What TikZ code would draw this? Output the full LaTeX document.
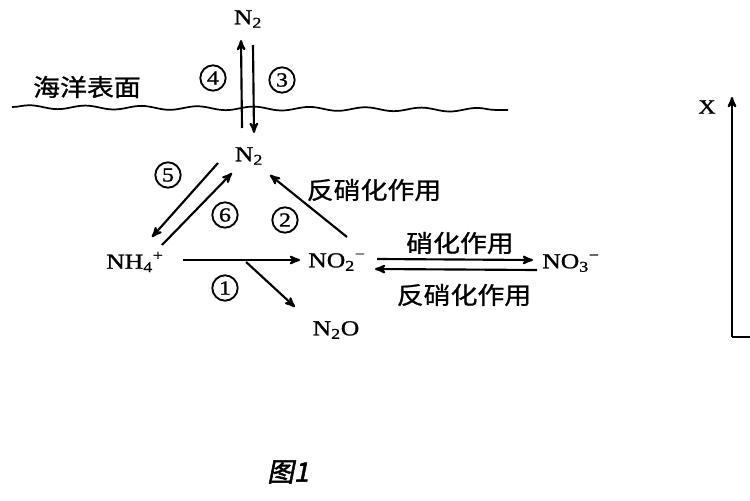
\documentclass[tikz,border=0pt]{standalone}
\usepackage{fontspec}
\setmainfont{Liberation Serif}[FakeStretch=1.2,FakeBold=1.2]
\newfontfamily\cjk{Noto Sans CJK SC}[FakeStretch=1.12,FakeBold=1]
\newfontfamily\figfont{Noto Sans CJK SC}[FakeBold=2,FakeSlant=0.2]
\usepackage{tikz}
\usetikzlibrary{arrows,calc,decorations.pathmorphing}

\begin{document}
\begin{tikzpicture}[>=stealth',x=0.75pt,y=-0.75pt,line width=1.6pt]
  \tikzset{chem/.style={inner sep=1pt, font=\fontsize{16}{16}\selectfont},
           cn/.style={inner sep=1pt, font=\cjk\fontsize{18}{18}\selectfont},
           num/.style={circle, draw, line width=1.4pt, inner sep=0pt, minimum size=19pt, font=\fontsize{15}{15}\selectfont}}
  \useasboundingbox (0,0) rectangle (750,500);
  % sea surface
  \coordinate (seaL) at (12,107);
  \coordinate (seaR) at (508,110);
  \draw[line width=1.3pt, decorate, decoration={snake, amplitude=1.4pt, segment length=42pt}] (seaL) -- (seaR);
  \node[cn] (sea) at (87,87) {海洋表面};
  % species
  \node[chem] (N2a) at (248,19) {N\textsubscript{2}};
  \node[chem] (N2b) at (249,156) {N\textsubscript{2}};
  \node[chem] (NH4) at (135,262) {NH\textsubscript{4}\textsuperscript{+}};
  \node[chem] (NO2) at (337,262) {NO\textsubscript{2}\textsuperscript{−}};
  \node[chem] (NO3) at (571,263) {NO\textsubscript{3}\textsuperscript{−}};
  \node[chem] (N2O) at (336,330) {N\textsubscript{2}O};
  % process numbers
  \node[num] (c1) at (225,288) {1};
  \node[num] (c2) at (285,220) {2};
  \node[num] (c3) at (282,80) {3};
  \node[num] (c4) at (213,78) {4};
  \node[num] (c5) at (168,175) {5};
  \node[num] (c6) at (225,215) {6};
  \node[cn] (den1) at (374,190) {反硝化作用};
  \node[cn] (nit) at (460,243) {硝化作用};
  \node[cn] (den2) at (464,295) {反硝化作用};
  % arrows
  \draw[->] ([shift={(-7,-28)}]N2b.center) -- ([shift={(-7,21)}]N2a.center);
  \draw[->] ([shift={(5,26)}]N2a.center) -- ([shift={(5,-23)}]N2b.center);
  \draw[->] ([shift={(-31,7)}]N2b.center) -- ([shift={(17,-25)}]NH4.center);
  \draw[->] ([shift={(27,-17)}]NH4.center) -- ([shift={(-17,17)}]N2b.center);
  \draw[->] ([shift={(10,-25)}]NO2.center) -- ([shift={(21,19)}]N2b.center);
  \draw[->] ([shift={(48,-2)}]NH4.center) -- ([shift={(-37,-2)}]NO2.center);
  \coordinate (split) at ($(NH4)!0.55!(NO2)$);
  \draw[->] (split) -- ([shift={(-41,-23)}]N2O.center);
  \draw[->] ([shift={(40,-3)}]NO2.center) -- ([shift={(-38,-3)}]NO3.center);
  \draw[->] ([shift={(-34,7)}]NO3.center) -- ([shift={(38,7)}]NO2.center);
  % axis
  \node[chem, font=\fontsize{15}{15}\selectfont] (X) at (707,107) {X};
  \coordinate (O) at (732,337);
  \coordinate (ytop) at (732,97);
  \coordinate (xend) at (750,337);
  \draw[->] (O) -- (ytop);
  \draw (O) -- (xend);
  \node[font=\figfont\fontsize{20}{20}\selectfont] (fig) at (288,472) {图1};
\end{tikzpicture}
\end{document}
